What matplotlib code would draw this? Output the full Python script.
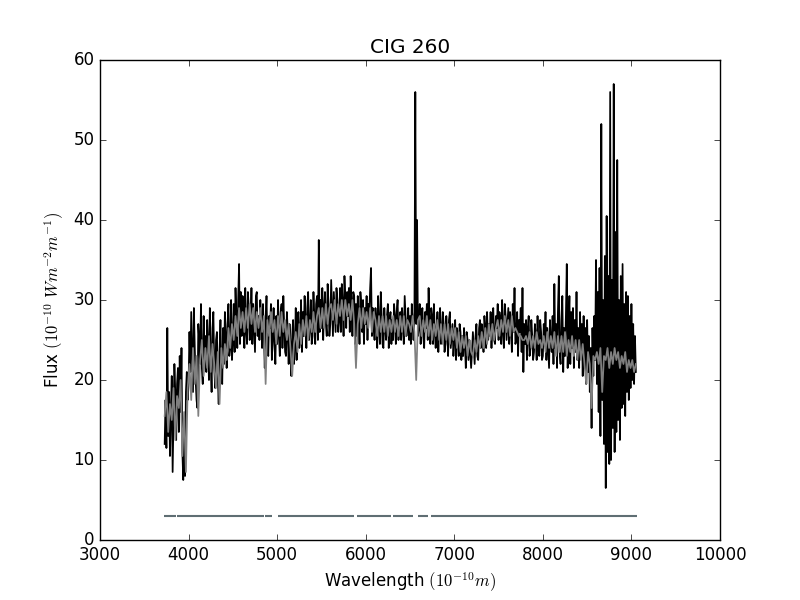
#!/usr/bin/env python3
"""Spektrum CIG 260: beobachteter Fluss (schwarz), Modell (grau), Maske."""
import numpy as np
import matplotlib
matplotlib.use("Agg")
import matplotlib.pyplot as plt

# beobachteter Fluss, 10 A Schritte ab 3730 A
obs_start, obs_step = 3730, 10
flux_obs = [
    12.0, 17.5, 11.5, 26.5, 13.0, 18.5, 10.5,
    16.0, 20.5, 8.5, 15.0, 22.0, 18.5, 12.5, 19.5, 21.5, 13.5,
    23.0, 16.0, 24.0, 11.0, 7.5, 14.5, 8.0, 18.5, 21.0, 17.5,
    19.5, 26.0, 21.0, 28.5, 23.5, 18.5, 29.0, 24.0, 20.0, 17.5,
    16.5, 27.0, 25.0, 22.0, 29.5, 21.5, 19.5, 28.0, 23.0, 25.5,
    21.0, 27.5, 24.5, 20.0, 29.0, 22.5, 18.5, 26.5, 28.5, 21.5,
    19.0, 25.0, 26.0, 20.5, 17.0, 23.5, 27.5, 21.0, 19.5, 26.5,
    22.0, 28.5, 25.5, 21.5, 27.0, 29.5, 23.0, 24.0, 30.0, 22.5,
    25.0, 29.5, 23.5, 31.5, 28.0, 24.0, 30.0, 34.5, 24.5, 31.0,
    25.5, 30.5, 28.5, 24.0, 31.5, 26.0, 24.5, 31.0, 29.0, 25.0,
    27.0, 31.5, 24.5, 29.5, 26.5, 23.5, 30.5, 31.0, 25.5, 28.0,
    25.0, 30.0, 27.5, 24.0, 29.5, 26.0, 21.5, 27.5, 30.5, 24.5,
    23.0, 28.0, 26.5, 29.5, 22.5, 25.0, 29.0, 24.5, 22.0, 28.0,
    24.5, 30.0, 25.5, 23.0, 28.5, 29.5, 24.0, 30.5, 26.5, 23.5,
    23.0, 28.5, 26.0, 22.0, 27.0, 24.5, 20.5, 25.5, 27.5, 22.0,
    24.0, 29.0, 22.5, 27.0, 28.5, 24.0, 25.0, 30.0, 23.5, 28.5,
    25.5, 30.5, 27.5, 24.0, 29.0, 31.0, 25.0, 26.5, 30.0, 24.5,
    25.5, 31.0, 28.0, 24.5, 29.5, 30.5, 25.0, 37.5, 26.0, 30.0,
    26.5, 31.5, 25.0, 29.0, 31.0, 27.0, 25.5, 32.0, 29.5, 25.5,
    27.0, 32.5, 29.0, 25.5, 31.0, 28.5, 26.0, 31.5, 30.0, 26.0,
    27.5, 31.5, 26.0, 32.0, 29.5, 25.5, 33.0, 30.0, 26.5, 31.0,
    28.0, 31.5, 26.0, 33.0, 29.5, 25.5, 31.0, 30.5, 24.5, 29.5,
    25.5, 30.5, 28.0, 24.5, 31.0, 29.5, 26.0, 30.0, 24.5, 29.0,
    27.0, 30.5, 25.0, 29.5, 28.0, 31.5, 34.0, 25.5, 29.0, 26.5,
    25.0, 29.0, 27.5, 24.0, 30.5, 27.0, 24.5, 31.0, 28.0, 24.5,
    24.0, 29.0, 26.5, 25.0, 28.0, 29.5, 24.0, 27.5, 28.5, 24.5,
    27.5, 25.0, 29.5, 28.0, 24.5, 28.5, 30.0, 25.0, 27.0, 28.5,
    25.0, 29.0, 27.0, 24.5, 30.5, 28.0, 25.5, 26.5, 29.0, 25.0,
    28.0, 24.5, 29.5, 27.0, 25.0, 28.5, 56.0, 27.0, 40.0, 25.5,
    26.5, 29.5, 24.5, 28.0, 29.0, 25.5, 24.0, 28.5, 26.5, 29.5,
    25.0, 31.5, 27.0, 24.5, 29.0, 28.0, 24.5, 29.5, 26.0, 24.0,
    26.5, 28.5, 23.5, 27.0, 29.0, 24.5, 25.5, 28.5, 27.0, 23.5,
    24.5, 28.0, 26.0, 23.0, 27.5, 28.5, 24.0, 25.5, 27.0, 23.0,
    25.0, 27.5, 22.5, 26.5, 25.5, 23.0, 27.0, 26.0, 22.5, 25.5,
    23.0, 26.5, 24.5, 21.5, 26.0, 25.0, 22.5, 25.0, 23.5, 21.5,
    23.5, 26.0, 24.0, 22.0, 25.5, 27.0, 23.0, 22.5, 26.5, 27.5,
    24.0, 27.0, 25.5, 23.5, 28.0, 26.5, 24.0, 28.5, 25.0, 27.0,
    25.5, 28.5, 24.0, 27.5, 29.0, 25.0, 24.5, 28.0, 26.5, 29.5,
    25.0, 28.5, 27.5, 24.5, 30.0, 26.0, 24.0, 29.5, 28.0, 25.0,
    27.0, 29.0, 24.5, 28.5, 27.0, 23.5, 29.5, 26.0, 31.5, 24.5,
    25.0, 28.5, 23.0, 27.5, 26.0, 29.0, 23.5, 31.5, 21.0, 27.0,
    24.5, 27.5, 22.5, 26.5, 28.0, 23.0, 24.0, 27.5, 25.5, 22.5,
    23.5, 27.0, 25.5, 22.5, 28.0, 24.0, 23.0, 27.5, 26.0, 22.5,
    23.0, 27.0, 24.5, 28.5, 22.5, 26.5, 24.0, 21.5, 27.5, 25.0,
    23.5, 28.0, 22.0, 32.0, 24.0, 27.0, 21.5, 28.5, 33.0, 23.5,
    22.0, 27.5, 30.5, 21.0, 26.5, 23.0, 28.0, 34.5, 21.5, 27.0,
    30.5, 22.0, 28.5, 24.0, 29.0, 21.5, 27.5, 23.5, 31.0, 22.5,
    26.5, 21.5, 28.5, 23.0, 27.0, 20.5, 28.0, 22.0, 26.5, 19.5,
    27.5, 21.0, 25.5, 18.5, 24.0, 14.0, 26.5, 20.5, 28.0, 22.5,
    35.0, 19.5, 31.0, 16.0, 34.0, 13.0, 52.0, 17.5, 30.0, 12.0,
    35.5, 6.5, 40.5, 11.0, 33.0, 9.5, 56.0, 10.0, 32.5, 14.0,
    57.0, 11.0, 38.5, 13.5, 47.5, 15.0, 30.0, 12.5, 33.0, 16.5,
    34.5, 17.0, 29.5, 15.5, 31.0, 18.5, 30.5, 17.5, 28.0, 19.0,
    29.5, 20.0, 27.0, 19.5, 25.5, 21.0,
]

# Modellspektrum, 20 A Schritte ab 3730 A
mod_start, mod_step = 3730, 20
flux_mod = [
    15.5, 18.5, 13.5, 17.0,
    15.0, 19.0, 12.5, 18.0, 16.5,
    20.0, 10.5, 16.0, 8.5, 19.0,
    22.0, 17.5, 24.0, 19.5, 23.0,
    15.5, 22.5, 25.0, 20.5, 24.0,
    21.5, 25.5, 21.0, 24.5, 22.0,
    19.0, 23.5, 17.0, 24.0, 21.5,
    24.5, 22.5, 26.5, 24.0, 27.0,
    25.0, 28.0, 25.5, 29.0, 26.5,
    28.5, 26.0, 29.0, 26.5, 29.5,
    27.0, 29.0, 26.0, 28.5, 26.5,
    29.0, 26.0, 28.0, 19.5, 27.5,
    25.5, 28.5, 26.0, 27.5, 24.5,
    28.0, 25.5, 28.5, 26.0, 27.5,
    25.0, 27.0, 24.0, 20.5, 24.5,
    26.0, 23.5, 27.0, 24.5, 27.5,
    25.5, 28.0, 25.0, 27.5, 26.0,
    28.5, 26.0, 28.0, 29.0, 26.5,
    29.0, 26.5, 29.5, 27.0, 29.0,
    29.5, 27.5, 30.0, 27.0, 29.5,
    28.0, 30.0, 27.5, 30.0, 28.0,
    29.5, 27.5, 30.0, 27.0, 21.5,
    27.0, 29.0, 26.5, 29.0, 27.0,
    28.5, 26.5, 29.0, 26.0, 28.5,
    27.5, 25.5, 28.0, 26.0, 28.0,
    26.0, 28.0, 25.5, 27.5, 26.0,
    28.0, 26.0, 27.5, 25.5, 28.0,
    26.0, 28.0, 25.5, 27.5, 27.0,
    26.0, 28.0, 26.0, 20.0, 27.5,
    28.0, 25.5, 27.5, 26.0, 28.0,
    25.5, 27.5, 25.0, 27.0, 25.5,
    27.5, 25.0, 27.0, 24.5, 27.0,
    25.0, 27.0, 24.5, 26.5, 25.0,
    26.5, 24.0, 26.0, 23.5, 25.5,
    24.0, 25.5, 23.0, 25.0, 23.5,
    23.0, 25.0, 23.5, 25.5, 24.0,
    26.0, 24.0, 26.5, 24.5, 27.0,
    25.0, 27.0, 25.0, 26.5, 27.5,
    25.5, 27.5, 26.0, 28.0, 26.0,
    27.5, 25.5, 28.0, 26.0, 26.5,
    26.0, 25.5, 25.5, 25.0, 25.0,
    25.5, 24.5, 26.0, 24.0, 25.5,
    24.0, 26.0, 24.5, 25.0, 24.0,
    25.5, 23.5, 26.0, 24.0, 25.5,
    24.0, 26.0, 23.0, 25.5, 23.5,
    25.5, 23.5, 26.0, 23.0, 25.0,
    23.5, 25.5, 23.0, 25.0, 22.5,
    25.0, 22.5, 24.5, 22.0, 19.5,
    23.5, 22.0, 16.5, 23.0, 22.5,
    23.5, 22.0, 24.0, 18.5, 23.0,
    22.5, 24.0, 21.5, 23.5, 22.0,
    24.0, 22.5, 23.5, 21.5, 23.0,
    22.0, 23.5, 21.0, 22.5, 21.5,
    22.5, 21.0, 22.0,
]

# maskierte Bereiche (Anfang, Ende) in A
mask_lo = [3725, 3870, 4860, 5010, 5900, 6310, 6590, 6735]
mask_hi = [3855, 4850, 4940, 5870, 6280, 6535, 6700, 9060]
mask_level = 3

wave_obs = obs_start + obs_step * np.arange(len(flux_obs))
wave_mod = mod_start + mod_step * np.arange(len(flux_mod))

plt.style.use("classic")
fig, ax = plt.subplots(figsize=(8, 6), dpi=100, facecolor="white")

ax.plot(wave_obs, flux_obs, color="black", lw=1.25)
ax.plot(wave_mod, flux_mod, color="#808080", lw=1.25)
ax.hlines([mask_level] * len(mask_lo), mask_lo, mask_hi,
          color="#5f6e73", lw=1.5)

ax.set_xlim(3000, 10000)
ax.set_ylim(0, 60)
ax.set_title("CIG 260")
ax.set_xlabel(r"Wavelength $(10^{-10}m)$")
ax.set_ylabel(r"Flux $(10^{-10}\ Wm^{-2}m^{-1})$")

fig.savefig("out.png", dpi=100, facecolor="white")
